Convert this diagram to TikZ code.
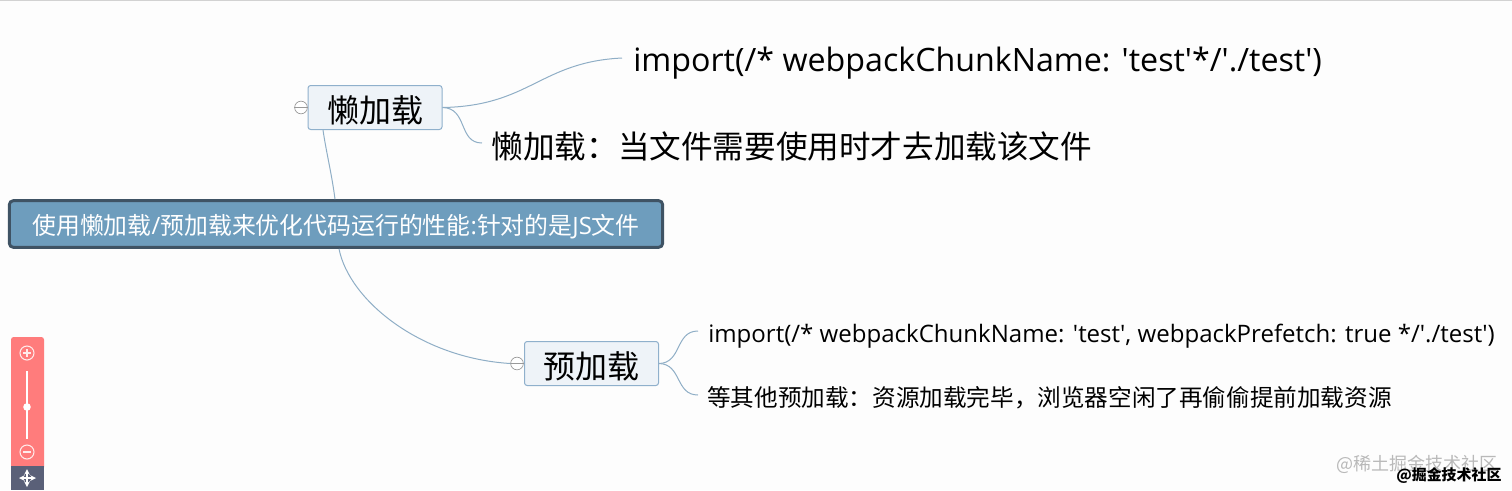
\documentclass[tikz,border=0pt]{standalone}
\usepackage{fontspec}
\setmainfont{Open Sans}
\newfontfamily\cjk{Noto Sans CJK SC}
\definecolor{bgc}{HTML}{FDFDFD}
\definecolor{linkc}{HTML}{8FAEC6}
\definecolor{rootf}{HTML}{6E9DBD}
\definecolor{rootd}{HTML}{3F5364}
\definecolor{subf}{HTML}{EEF3F8}
\definecolor{subd}{HTML}{8FB0CC}
\definecolor{ctrl}{HTML}{FF7C7C}
\definecolor{ctrld}{HTML}{5A6078}
\tikzset{
 x=0.75pt,y=-0.75pt,
 link/.style={draw=linkc,line width=0.75pt},
 subbox/.style={draw=subd,fill=subf,rounded corners=2pt,line width=0.75pt,minimum width=100.5pt,minimum height=33pt,inner sep=0pt,text=black,font=\cjk\fontsize{24pt}{28pt}\selectfont},
 rootbox/.style={draw=rootd,fill=rootf,rounded corners=3pt,line width=2.2pt,minimum width=490pt,minimum height=35pt,inner sep=0pt,text=white,font=\fontsize{17.9pt}{22pt}\selectfont},
 bigtxt/.style={anchor=west,inner sep=0pt,text=black,font=\fontsize{24.15pt}{28pt}\selectfont},
 bigcjk/.style={anchor=west,inner sep=0pt,text=black,font=\cjk\fontsize{23.7pt}{28pt}\selectfont},
 smalltxt/.style={anchor=west,inner sep=0pt,text=black,font=\fontsize{18.03pt}{22pt}\selectfont},
 smallcjk/.style={anchor=west,inner sep=0pt,text=black,font=\cjk\fontsize{17.7pt}{22pt}\selectfont},
 fold/.style={circle,draw=gray!80,fill=white,line width=0.5pt,minimum size=9.5pt,inner sep=0pt},
 ctrlicon/.style={circle,draw=white!85!ctrl,line width=0.8pt,minimum size=10.5pt,inner sep=0pt},
 ctrlline/.style={draw=white,line width=1.3pt},
 wm/.style={anchor=west,inner sep=0pt,font=\cjk\fontsize{13.5pt}{16pt}\selectfont}
}
\begin{document}
\begin{tikzpicture}
\useasboundingbox (0,0) rectangle (1512,490);
\fill[bgc] (0,0) rectangle (1512,490);
\draw[gray!35,line width=0.75pt] (0,0.5) -- (1512,0.5);

% nodes
\node[subbox] (lazy) at (375,107.5) {\raisebox{-2.25pt}[\height][\depth]{懒加载}};
\node[subbox] (pre) at (591.5,363.5) {\raisebox{-2.25pt}[\height][\depth]{预加载}};
\node[rootbox] (root) at (336,224) {\raisebox{-2.25pt}[\height][\depth]{{\cjk 使用懒加载}/{\cjk 预加载来优化代码运行的性能}:{\cjk 针对的是}JS{\cjk 文件}}};
\node[bigtxt] (t1) at (633,63.5) {import(/* webpackChunkName: \textquotesingle test\textquotesingle */\textquotesingle ./test\textquotesingle)};
\node[bigcjk] (t2) at (491.5,146) {懒加载：当文件需要使用时才去加载该文件};
\node[smalltxt] (t3) at (708,336) {import(/* webpackChunkName: \textquotesingle test\textquotesingle, webpackPrefetch: true */\textquotesingle ./test\textquotesingle)};
\node[smallcjk] (t4) at (707,398) {等其他预加载：资源加载完毕，浏览器空闲了再偷偷提前加载资源};
\node[fold] (f1) at (301,107.5) {};
\node[fold] (f2) at (517,363.5) {};
\draw[gray!80,line width=0.5pt] (f1.west) -- (f1.east) (f2.west) -- (f2.east);

% connectors
\coordinate (e1) at (622,58);
\coordinate (e2) at (482,143);
\coordinate (e3) at (698,331);
\coordinate (e4) at (698,395);
\path[link] (lazy.east) .. controls (530,106) and (540,62) .. (e1);
\path[link] (lazy.east) .. controls (468,108) and (458,143) .. (e2);
\path[link] (pre.east) .. controls (682,363) and (675,331) .. (e3);
\path[link] (pre.east) .. controls (682,364) and (675,395) .. (e4);
\path[link] ([xshift=-39pt]lazy.south) .. controls +(3,21) and +(-3,-24) .. ([xshift=-0.75pt]root.north);
\path[link] ([xshift=2.25pt]root.south) .. controls (349,300) and (420,358) .. (f2.west);

% zoom control
\fill[ctrl,rounded corners=2pt] (11,337) rectangle (44,470);
\fill[ctrld] (11,466) rectangle (44,490);
\node[ctrlicon] (zin) at (27,353) {};
\node[ctrlicon] (zout) at (27,452) {};
\draw[white!85!ctrl,line width=0.8pt] (23,353) -- (31,353) (27,349) -- (27,357) (23,452) -- (31,452);
\draw[ctrlline] (27,371) -- (27,439);
\fill[white] (27,407) circle[radius=3.8];
\draw[white,line width=0.9pt,<->,>=stealth] (19,478) -- (36,478);
\draw[white,line width=0.9pt,<->,>=stealth] (27,469) -- (27,487);

% watermarks
\node[wm,text=gray!55] (w1) at (1336,464) {@稀土掘金技术社区};
\node[wm,text=black,font=\cjk\bfseries\fontsize{11.2pt}{14pt}\selectfont] (w2) at (1396,475) {@掘金技术社区};
\end{tikzpicture}
\end{document}
